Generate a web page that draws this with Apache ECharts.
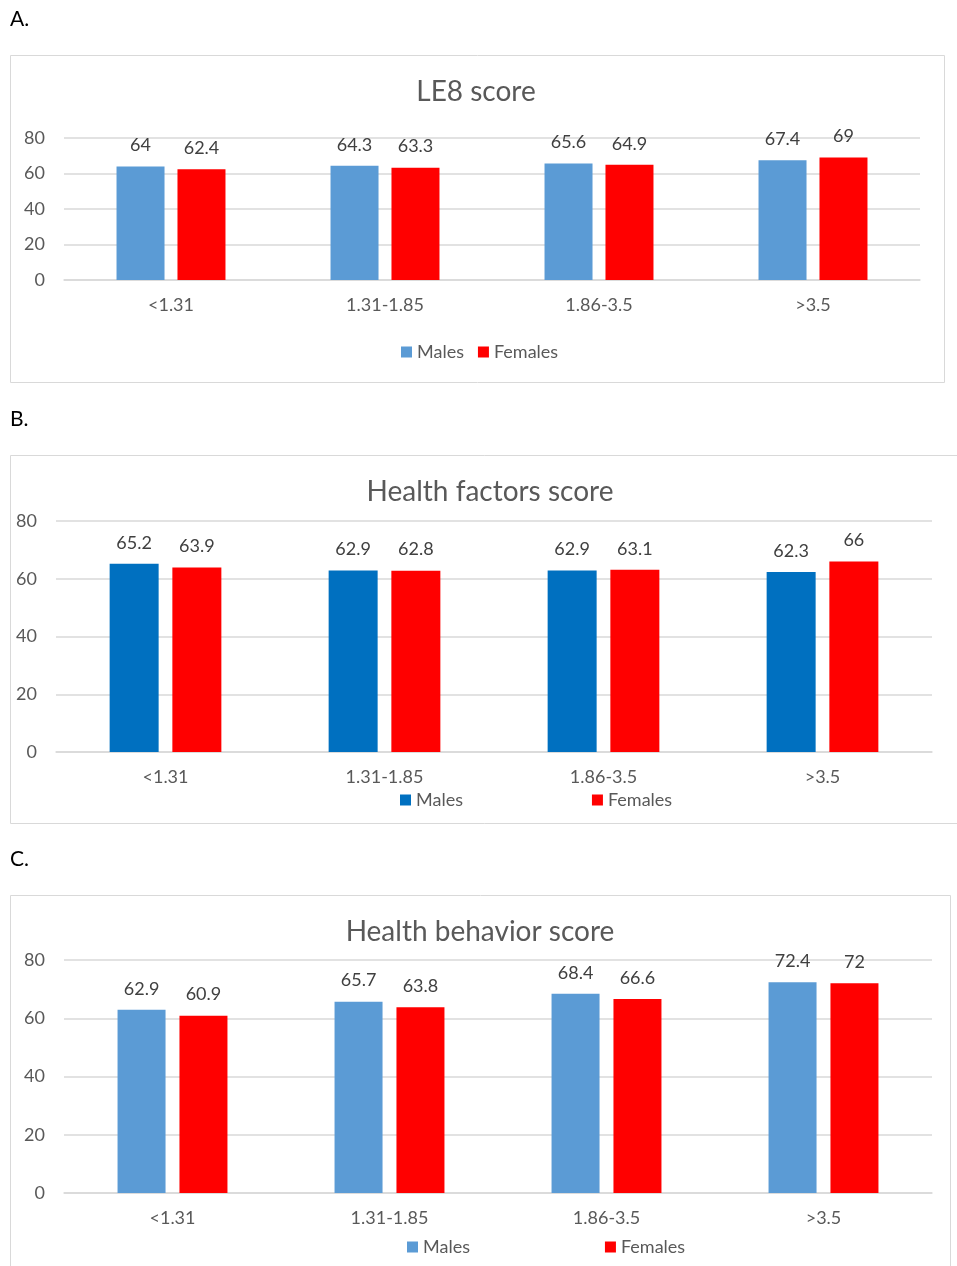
<!DOCTYPE html>
<html>
<head>
<meta charset="utf-8">
<script src="https://cdn.jsdelivr.net/npm/echarts@6/dist/echarts.min.js"></script>
<style>
  html, body { margin: 0; padding: 0; background: #fff; }
  body { width: 957px; height: 1266px; position: relative; overflow: hidden; }
  .panel { position: absolute; left: 0; width: 957px; }
</style>
</head>
<body>
<div id="panelA" class="panel" style="top:0;height:400px"></div>
<div id="panelB" class="panel" style="top:400px;height:430px"></div>
<div id="panelC" class="panel" style="top:840px;height:426px"></div>
<script>
// Income-ratio groups on the category axis
const categories = ['<1.31', '1.31-1.85', '1.86-3.5', '>3.5'];
const seriesNames = ['Males', 'Females'];

// A. LE8 score
const le8Males = [64, 64.3, 65.6, 67.4];
const le8Females = [62.4, 63.3, 64.9, 69];

// B. Health factors score
const factorsMales = [65.2, 62.9, 62.9, 62.3];
const factorsFemales = [63.9, 62.8, 63.1, 66];

// C. Health behavior score
const behaviorMales = [62.9, 65.7, 68.4, 72.4];
const behaviorFemales = [60.9, 63.8, 66.6, 72];

// Value axis range
const yMin = 0, yMax = 80, yStep = 20;

const FONT = 'Lato, "Open Sans", sans-serif';
const TEXT_GREY = '#595959';
const GRID_GREY = '#d9d9d9';
const RED = '#FF0000';

function buildPanel(el, cfg) {
  const chart = echarts.init(document.getElementById(el), null, { renderer: 'canvas' });
  const colors = [cfg.maleColor, RED];
  const values = [cfg.males, cfg.females];
  chart.setOption({
    animation: false,
    textStyle: { fontFamily: FONT },
    graphic: [
      {
        type: 'text', left: 10, top: 9,
        style: { text: cfg.letter, font: '21px ' + FONT, fill: '#000' }
      },
      {
        type: 'rect', silent: true,
        shape: { x: 10.5, y: 55.5, width: cfg.boxWidth, height: cfg.boxHeight },
        style: { fill: 'none', stroke: GRID_GREY, lineWidth: 1 }
      },
      {
        type: 'text', x: cfg.titleX, y: 92,
        style: {
          text: cfg.title, font: '28px ' + FONT, fill: TEXT_GREY,
          textAlign: 'center', textVerticalAlign: 'middle'
        }
      }
    ],
    legend: {
      data: seriesNames,
      left: cfg.legendLeft,
      top: cfg.legendTop,
      icon: 'rect',
      itemWidth: 11,
      itemHeight: 11,
      itemGap: cfg.legendGap,
      textStyle: { color: TEXT_GREY, fontSize: 18, fontFamily: FONT }
    },
    grid: cfg.grid,
    xAxis: {
      type: 'category',
      data: categories,
      axisLine: { lineStyle: { color: GRID_GREY, width: 1.5 } },
      axisTick: { show: false },
      axisLabel: { color: TEXT_GREY, fontSize: 18, margin: 16 }
    },
    yAxis: {
      type: 'value',
      min: yMin, max: yMax, interval: yStep,
      axisLine: { show: false },
      axisTick: { show: false },
      axisLabel: { color: TEXT_GREY, fontSize: 18, margin: 19 },
      splitLine: { lineStyle: { color: GRID_GREY, width: 1.5 } }
    },
    series: seriesNames.map((name, i) => ({
      name: name,
      type: 'bar',
      data: values[i],
      barWidth: cfg.barWidth,
      barGap: cfg.barGap,
      itemStyle: { color: colors[i] },
      label: {
        show: true, position: 'top', distance: 12,
        color: '#404040', fontSize: 18, fontFamily: FONT
      }
    }))
  });
}

buildPanel('panelA', {
  letter: 'A.', title: 'LE8 score', titleX: 476,
  boxWidth: 934, boxHeight: 327,
  males: le8Males, females: le8Females, maleColor: '#5B9BD5',
  grid: { left: 64, right: 37, top: 138, bottom: 120 },
  barWidth: 48, barGap: '27%',
  legendLeft: 396, legendTop: 338, legendGap: 14
});

buildPanel('panelB', {
  letter: 'B.', title: 'Health factors score', titleX: 490,
  boxWidth: 980, boxHeight: 368,
  males: factorsMales, females: factorsFemales, maleColor: '#0070C0',
  grid: { left: 56, right: 25, top: 121, bottom: 78 },
  barWidth: 49, barGap: '28%',
  legendLeft: 395, legendTop: 386, legendGap: 129
});

buildPanel('panelC', {
  letter: 'C.', title: 'Health behavior score', titleX: 480,
  boxWidth: 940, boxHeight: 400,
  males: behaviorMales, females: behaviorFemales, maleColor: '#5B9BD5',
  grid: { left: 64, right: 25, top: 120, bottom: 73 },
  barWidth: 48, barGap: '29%',
  legendLeft: 402, legendTop: 393, legendGap: 135
});
</script>
</body>
</html>
